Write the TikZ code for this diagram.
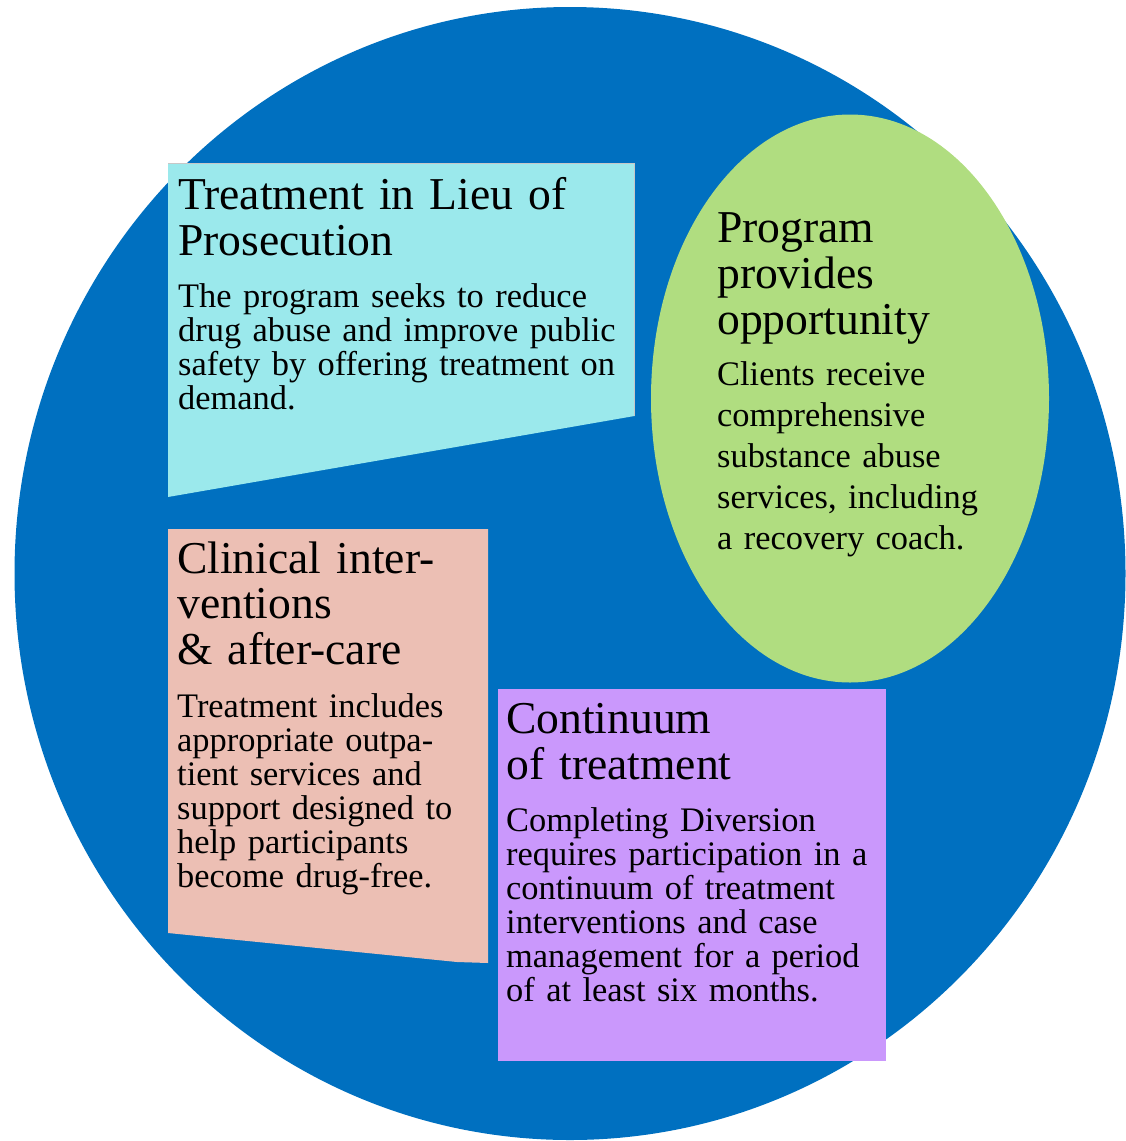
\documentclass[tikz,border=0pt]{standalone}
\usepackage{fontspec}
\setmainfont{Liberation Serif}
\definecolor{bigblue}{HTML}{0070C0}
\definecolor{cyanbox}{HTML}{9BE9EC}
\definecolor{greenov}{HTML}{B0DD80}
\definecolor{pinkbox}{HTML}{ECBFB4}
\definecolor{purplebox}{HTML}{CA98FC}
\begin{document}
\begin{tikzpicture}[x=1pt,y=-1pt,
  head/.style={anchor=base west, inner sep=0pt, text width=600pt, align=left,
    font=\fontsize{45.6}{46}\selectfont},
  body/.style={anchor=base west, inner sep=0pt, text width=600pt, align=left,
    font=\fontsize{34.4}{34}\selectfont}]
\useasboundingbox (0,0) rectangle (1126,1141);
% big circle
\fill[bigblue] (570,573.5) ellipse [x radius=555.5, y radius=566.5];
% cyan panel
\fill[cyanbox] (168,163) -- (634.5,163) -- (634.5,416) -- (168,497) -- cycle;
\draw[black!22, line width=1.2pt] (168,163.6) -- (634.4,163.6) -- (634.4,416);
% green oval
\fill[greenov] (850,398.5) ellipse [x radius=199, y radius=284];
% pink panel
\fill[pinkbox] (168,529) -- (488,529) -- (488,963) -- (457,962) -- (168,933) -- cycle;
% purple panel
\fill[purplebox] (498,689) rectangle (886,1061);
% texts
\node[head] (t1h) at (178,209) {Treatment in Lieu of\\Prosecution};
\node[body] (t1b) at (178,307) {The program seeks to reduce\\drug abuse and improve public\\safety by offering treatment on\\demand.};
\node[head] (t2h) at (717,242.5) {Program\\provides\\opportunity};
\node[body, font=\fontsize{34.4}{41}\selectfont] (t2b) at (717,385) {Clients receive\\comprehensive\\substance abuse\\services, including\\a recovery coach.};
\node[head, font=\fontsize{45.6}{45.5}\selectfont] (t3h) at (177,573) {Clinical inter-\\ventions\\\& after-care};
\node[body] (t3b) at (177,717) {Treatment includes\\appropriate outpa-\\tient services and\\support designed to\\help participants\\become drug-free.};
\node[head] (t4h) at (506,733) {Continuum\\of treatment};
\node[body] (t4b) at (506,831) {Completing Diversion\\requires participation in a\\continuum of treatment\\interventions and case\\management for a period\\of at least six months.};
\end{tikzpicture}
\end{document}
